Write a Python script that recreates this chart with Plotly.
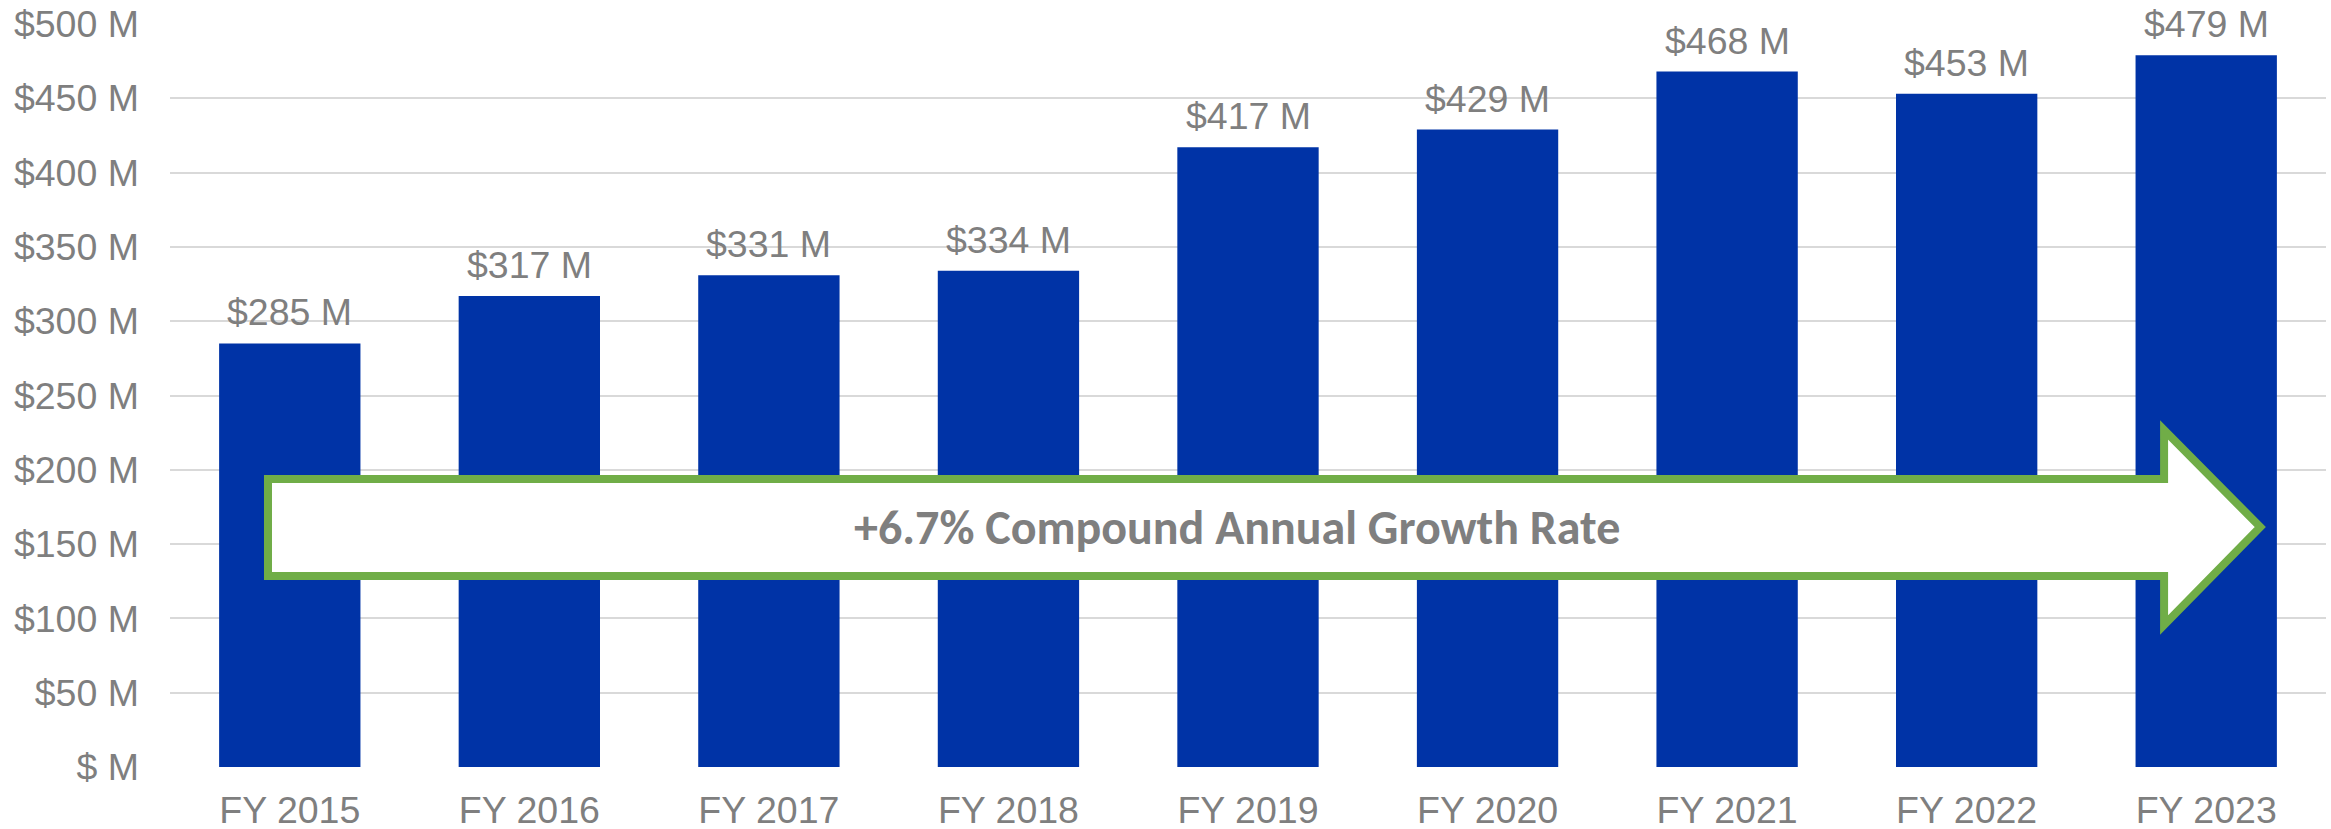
import plotly.graph_objects as go

categories = ["FY 2015", "FY 2016", "FY 2017", "FY 2018", "FY 2019", "FY 2020", "FY 2021", "FY 2022", "FY 2023"]
revenue = [285, 317, 331, 334, 417, 429, 468, 453, 479]
y_ticks = [0, 50, 100, 150, 200, 250, 300, 350, 400, 450, 500]
y_tick_labels = ["$ M" if v == 0 else f"${v} M" for v in y_ticks]
bar_labels = [f"${v} M" for v in revenue]
cagr_text = "+6.7% Compound Annual Growth Rate"

GRAY = "#7F7F7F"
BLUE = "#0033A6"
GREEN = "#70AD47"
FONT = "Liberation Sans, Arial, sans-serif"
FS = 37.5

fig = go.Figure()
fig.add_trace(go.Bar(x=categories, y=revenue, marker=dict(color=BLUE, line=dict(width=0)),
                     hoverinfo="skip"))

for c, v, t in zip(categories, revenue, bar_labels):
    fig.add_annotation(x=c, y=v, text=t, showarrow=False, yanchor="bottom", yshift=8,
                       font=dict(family=FONT, size=FS, color=GRAY))

# Arrow shape (paper x, data y)
bx0, bx1, tip = 0.04545, 0.9249, 0.9695
top, bot, htop, hbot, mid = 193.8, 128.5, 226.8, 95.6, 161.5
path = (f"M {bx0} {top} L {bx1} {top} L {bx1} {htop} L {tip} {mid} L {bx1} {hbot} "
        f"L {bx1} {bot} L {bx0} {bot} Z")
fig.add_shape(type="path", xref="paper", yref="y", path=path,
              fillcolor="white", line=dict(color=GREEN, width=8), layer="above")
fig.add_annotation(xref="paper", yref="y", x=0.495, y=mid, xanchor="center", yanchor="middle",
                   text=f"<b>{cagr_text}</b>", showarrow=False,
                   font=dict(family="Carlito, Lato, sans-serif", size=48, color=GRAY))

fig.update_layout(
    width=2331, height=829,
    margin=dict(l=170, r=5, t=24, b=62, autoexpand=False),
    paper_bgcolor="white", plot_bgcolor="white",
    bargap=0.41, showlegend=False,
    font=dict(family=FONT, size=FS, color=GRAY),
)
fig.update_xaxes(type="category", showgrid=False, showline=False, ticks="", automargin=False,
                 tickfont=dict(family=FONT, size=FS, color=GRAY), ticklabelstandoff=17)
fig.update_yaxes(range=[0, 500], tickvals=y_ticks, ticktext=y_tick_labels, automargin=False,
                 showgrid=True, gridcolor="#D9D9D9", gridwidth=2, zeroline=False,
                 showline=False, ticks="", ticklabelstandoff=30, ticklabeloverflow="allow",
                 tickfont=dict(family=FONT, size=FS, color=GRAY))

fig.write_html("out.html", config={"displayModeBar": False},
               post_script="document.body.style.margin='0px';document.body.style.overflow='hidden';")
